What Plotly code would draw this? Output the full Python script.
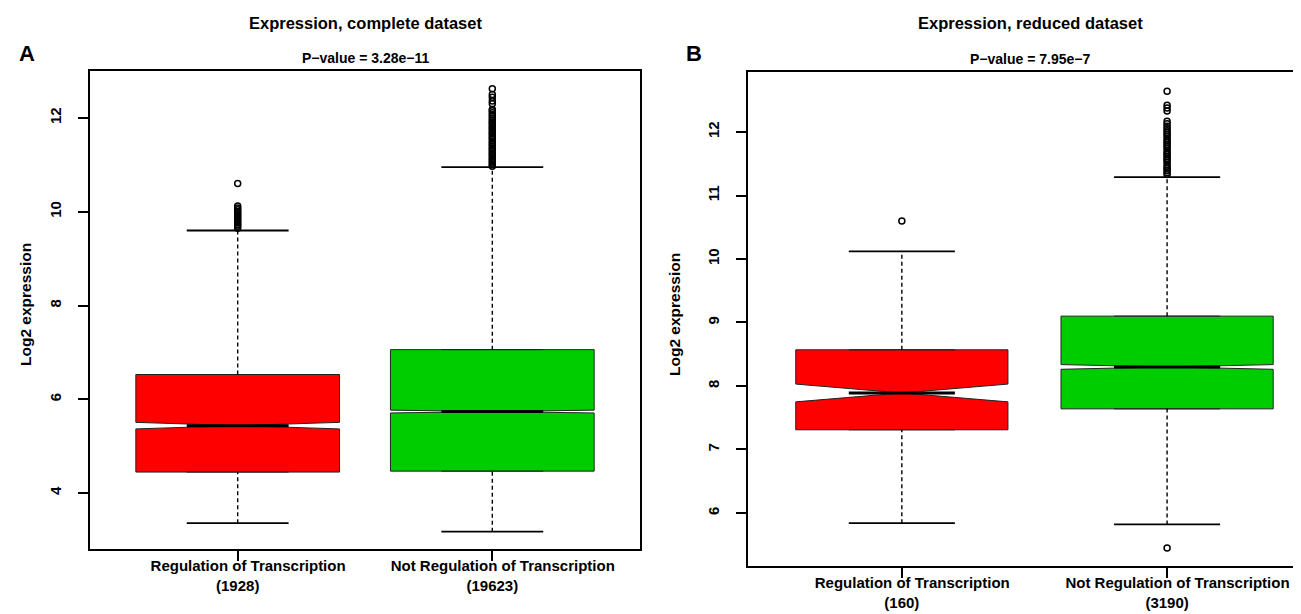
import plotly.graph_objects as go

W, H = 1301, 614

# ---------------- data ----------------
NB = "\u00a0" * 5
cat_a = [NB + "Regulation of Transcription<br>(1928)", NB + "Not Regulation of Transcription<br>(19623)"]
cat_b = [NB + "Regulation of Transcription<br>(160)", NB + "Not Regulation of Transcription<br>(3190)"]

a_lower = [3.36, 3.18]
a_q1 = [4.45, 4.47]
a_median = [5.44, 5.74]
a_q3 = [6.53, 7.06]
a_upper = [9.60, 10.95]
a_notch = [0.07, 0.03]
a_out_reg = [9.65, 9.69, 9.72, 9.76, 9.79, 9.83, 9.86, 9.9, 9.93, 9.97, 10.0, 10.04, 10.08, 10.12, 10.6]
a_out_not = [10.97, 11.0, 11.04, 11.07, 11.11, 11.14, 11.18, 11.22, 11.25, 11.29, 11.33, 11.36,
             11.4, 11.44, 11.47, 11.51, 11.55, 11.58, 11.62, 11.66, 11.69, 11.73, 11.77, 11.8,
             11.84, 11.88, 11.91, 11.95, 11.99, 12.03, 12.07, 12.11, 12.15, 12.18, 12.3, 12.36,
             12.44, 12.5, 12.62]

b_lower = [5.84, 5.82]
b_q1 = [7.31, 7.64]
b_median = [7.89, 8.30]
b_q3 = [8.57, 9.10]
b_upper = [10.12, 11.29]
b_notch = [0.14, 0.037]
b_out_reg = [10.6]
b_out_not = [5.45, 11.33, 11.36, 11.39, 11.42, 11.45, 11.48, 11.52, 11.55, 11.58, 11.61, 11.64,
             11.67, 11.7, 11.74, 11.77, 11.8, 11.83, 11.86, 11.89, 11.93, 11.96, 11.99, 12.02,
             12.05, 12.09, 12.13, 12.17, 12.33, 12.38, 12.42, 12.64]

colors = ["#FF0000", "#00CD00"]

# ---------------- layout geometry ----------------
def px_x(p):
    return p / W

def px_y(p):
    return 1 - p / H

FONT = "Liberation Sans, Arial, Helvetica, sans-serif"

fig = go.Figure()

def add_panel(xa, ya, lower, q1, med, q3, upper, notch, outs):
    xref = "x" if xa == 1 else "x%d" % xa
    yref = "y" if ya == 1 else "y%d" % ya
    for i in range(2):
        xc = i + 1
        fig.add_trace(go.Box(
            x=[xc], q1=[q1[i]], median=[med[i]], q3=[q3[i]],
            lowerfence=[q1[i]], upperfence=[q3[i]], notchspan=[notch[i]],
            notched=True, notchwidth=0.5, width=0.8,
            fillcolor=colors[i], line=dict(color="#222222", width=1),
            boxpoints=False, xaxis=xref, yaxis=yref, showlegend=False, hoverinfo="skip"))
        fig.add_trace(go.Scatter(
            x=[xc - 0.2, xc + 0.2], y=[med[i], med[i]], mode="lines",
            line=dict(color="black", width=3), xaxis=xref, yaxis=yref,
            showlegend=False, hoverinfo="skip"))
        for a, b in ((q3[i], upper[i]), (lower[i], q1[i])):
            fig.add_trace(go.Scatter(
                x=[xc, xc], y=[a, b], mode="lines",
                line=dict(color="black", width=1.4, dash="4px,3px"),
                xaxis=xref, yaxis=yref, showlegend=False, hoverinfo="skip"))
        for v in (upper[i], lower[i]):
            fig.add_trace(go.Scatter(
                x=[xc - 0.2, xc + 0.2], y=[v, v], mode="lines",
                line=dict(color="black", width=1.8),
                xaxis=xref, yaxis=yref, showlegend=False, hoverinfo="skip"))
        fig.add_trace(go.Scatter(
            x=[xc] * len(outs[i]), y=outs[i], mode="markers",
            marker=dict(symbol="circle-open", size=6, color="black", line=dict(width=1.5)),
            xaxis=xref, yaxis=yref, showlegend=False, hoverinfo="skip"))

add_panel(1, 1, a_lower, a_q1, a_median, a_q3, a_upper, a_notch, [a_out_reg, a_out_not])
add_panel(2, 2, b_lower, b_q1, b_median, b_q3, b_upper, b_notch, [b_out_reg, b_out_not])

tickfont = dict(family=FONT, size=15, color="black", weight="bold")

xcommon = dict(showline=True, linecolor="black", linewidth=2, mirror=True,
               ticks="outside", ticklen=10, tickwidth=1.6, tickcolor="black",
               showgrid=False, zeroline=False, tickfont=tickfont, ticklabelstandoff=-8)
ycommon = dict(showline=True, linecolor="black", linewidth=2,
               ticks="outside", ticklen=10, tickwidth=1.6, tickcolor="black",
               showgrid=False, zeroline=False, tickfont=tickfont, tickangle=-90,
               ticklabelstandoff=11)

fig.update_layout(
    width=W, height=H, margin=dict(l=0, r=0, t=0, b=0),
    paper_bgcolor="white", plot_bgcolor="white",
    xaxis=dict(domain=[px_x(82), px_x(632)], range=[0.42, 2.58], tickvals=[1, 2],
               ticktext=cat_a, anchor="y", **xcommon),
    yaxis=dict(domain=[px_y(541), px_y(63)], range=[2.81, 13.0], tickvals=[4, 6, 8, 10, 12],
               anchor="x", mirror=True, **ycommon),
    xaxis2=dict(domain=[px_x(740), 1.0], range=[0.42, 2.535], tickvals=[1, 2],
                ticktext=cat_b, anchor="y2", **xcommon),
    yaxis2=dict(domain=[px_y(558), px_y(64)], range=[5.165, 12.945],
                tickvals=[6, 7, 8, 9, 10, 11, 12], anchor="x2", mirror=False, **ycommon),
)

def ann(text, x, y, size, angle=0):
    fig.add_annotation(text=text, x=px_x(x), y=px_y(y), xref="paper", yref="paper",
                       showarrow=False, textangle=angle, xanchor="center", yanchor="middle",
                       font=dict(family=FONT, size=size, color="black", weight="bold"))

ann("Expression, complete dataset", 357, 15, 16.5)
ann("P\u2212value = 3.28e\u221211", 357, 50, 14)
ann("Expression, reduced dataset", 1022, 15, 16.5)
ann("P\u2212value = 7.95e\u22127", 1022, 51, 14)
ann("A", 19, 45, 22)
ann("B", 686, 45, 22)
ann("Log2 expression", 17, 297, 15.5, -90)
ann("Log2 expression", 666, 307, 15.5, -90)

fig.write_html("out.html")
